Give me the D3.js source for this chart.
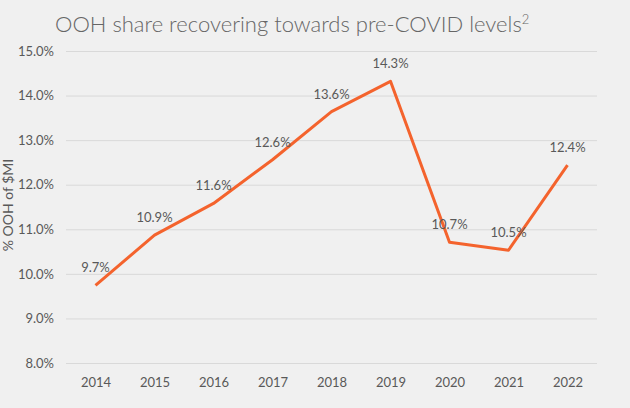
<!DOCTYPE html>
<html>
  <head>
    <script src="https://cdn.jsdelivr.net/npm/d3@7/dist/d3.min.js" charset="utf-8"></script>
    <style>
      body { margin: 0; background: #f0f0f0; }
      text { font-family: Lato, "Liberation Sans", sans-serif; fill: #595959; }
    </style>
  </head>
  <body>
    <svg id="chart" width="630" height="408"></svg>
    <script>
      var years = ["2014", "2015", "2016", "2017", "2018", "2019", "2020", "2021", "2022"];
      var share = [9.74, 10.87, 11.58, 12.56, 13.64, 14.32, 10.71, 10.53, 12.44];
      var yTicks = [8, 9, 10, 11, 12, 13, 14, 15];

      var svg = d3.select("#chart");

      var scX = d3.scalePoint().domain(years).range([66, 597]).padding(0.5);
      var scY = d3.scaleLinear().domain([8, 15]).range([363, 51]);

      // grid + y labels
      var yAxis = d3.axisLeft(scY).tickValues(yTicks)
        .tickFormat(d => d3.format(".1f")(d) + "%")
        .tickSize(-(597 - 66)).tickPadding(12);
      var gy = svg.append("g").attr("transform", "translate(66,0)").call(yAxis);
      gy.select(".domain").remove();
      gy.selectAll("line").attr("stroke", "#d9d9d9").attr("stroke-width", 1);
      gy.selectAll("text").attr("font-size", 13).style("fill", "#595959");

      var xAxis = d3.axisBottom(scX).tickSize(0).tickPadding(15);
      var gx = svg.append("g").attr("transform", "translate(0,363)").call(xAxis);
      gx.select(".domain").remove();
      gx.selectAll("text").attr("font-size", 13).style("fill", "#595959");

      // y title
      svg.append("text")
        .attr("transform", "translate(13,205) rotate(-90)")
        .attr("text-anchor", "middle")
        .attr("font-size", 14)
        .text("% OOH of $MI");

      // title
      var t = svg.append("text").attr("x", 55).attr("y", 32).attr("font-size", 22)
        .style("fill", "#666").attr("font-weight", 300)
        .text("OOH share recovering towards pre-COVID levels");
      t.append("tspan").attr("font-size", 13).attr("dy", -8).text("2");

      var lineMaker = d3.line().x((d, i) => scX(years[i])).y(d => scY(d));
      svg.append("path")
        .attr("d", lineMaker(share))
        .attr("fill", "none")
        .attr("stroke", "#f4632d")
        .attr("stroke-width", 3)
        .attr("stroke-linejoin", "round");

      svg.append("g").selectAll("text").data(share).enter().append("text")
        .attr("x", (d, i) => scX(years[i]))
        .attr("y", d => scY(d) - 13)
        .attr("text-anchor", "middle")
        .attr("font-size", 13)
        .text(d => d3.format(".1f")(d) + "%");
    </script>
  </body>
</html>
